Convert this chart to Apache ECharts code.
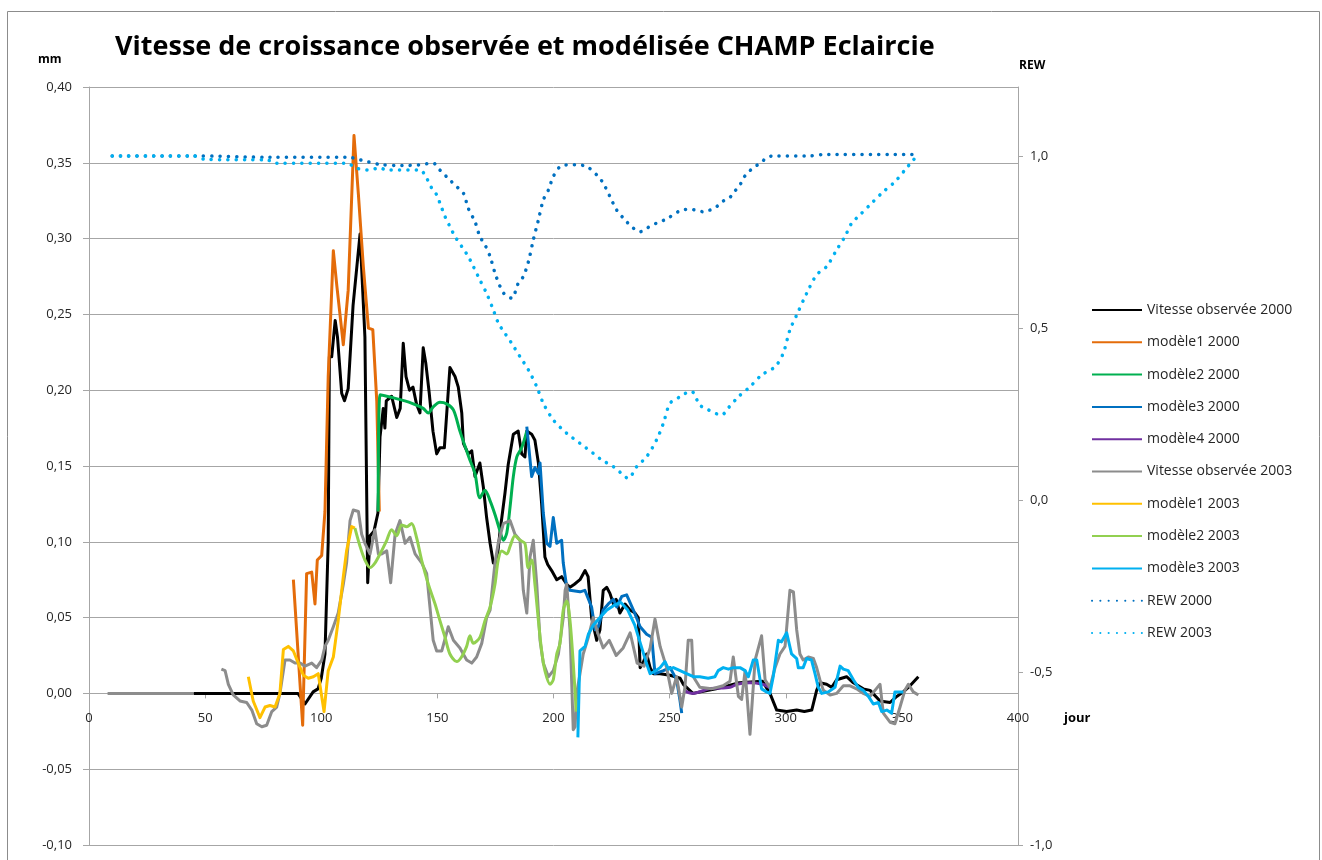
<!DOCTYPE html>
<html>
<head>
<meta charset="utf-8">
<script src="https://cdn.jsdelivr.net/npm/echarts@6/dist/echarts.min.js"></script>
<style>
html,body{margin:0;padding:0;background:#fff;}
#chart{width:1322px;height:860px;}
</style>
</head>
<body>
<div id="chart"></div>
<script>
// ---- DATA (day, value) ----
const obs2000 = [[45,0],[90,0],[93,-0.007],[96.5,0.001],[98.6,0.003],[100,0.01],[101.6,0.026],[103,0.1],[103.5,0.222],[104.5,0.222],[106,0.246],[107,0.235],[108.8,0.198],[110,0.193],[111.6,0.201],[113.7,0.256],[116.7,0.303],[118.8,0.235],[120,0.073],[121,0.104],[122.7,0.107],[124.4,0.119],[125.3,0.169],[126.7,0.188],[127.4,0.175],[128,0.193],[130.3,0.196],[132.5,0.182],[134,0.188],[135.3,0.231],[136.5,0.209],[138,0.2],[139.5,0.202],[141,0.191],[142.5,0.185],[143.9,0.228],[145,0.218],[146.5,0.198],[148.1,0.173],[149.7,0.158],[151.1,0.162],[153,0.162],[155.4,0.215],[157.6,0.209],[159,0.202],[160.5,0.185],[161.2,0.165],[163.3,0.158],[164.8,0.16],[166.2,0.143],[168.3,0.152],[169.8,0.136],[171.2,0.116],[172.7,0.099],[174.1,0.086],[175.5,0.086],[177,0.107],[179.1,0.132],[180.5,0.151],[182.7,0.171],[184.8,0.173],[186.3,0.158],[187.7,0.156],[188.5,0.173],[190.6,0.171],[192,0.167],[193.5,0.152],[194.9,0.125],[196.3,0.09],[197.5,0.085],[199.2,0.081],[201.4,0.075],[203.5,0.077],[205.7,0.072],[207.1,0.07],[209,0.072],[211.4,0.075],[213.6,0.081],[214.9,0.077],[216.4,0.05],[218.6,0.035],[220,0.042],[221.4,0.068],[222.9,0.07],[224.3,0.066],[225.8,0.059],[227,0.062],[228.6,0.053],[230.8,0.059],[232.9,0.055],[235.1,0.053],[236.5,0.05],[237.3,0.017],[238.5,0.02],[240.1,0.026],[241.6,0.017],[243,0.013],[245.9,0.013],[250.2,0.012],[254.5,0.01],[255.9,0.006],[260,0.0],[270,0.003],[280,0.007],[290,0.008],[293.2,0.0],[296.1,-0.011],[300.4,-0.012],[304.7,-0.011],[308,-0.012],[311.2,-0.011],[313.3,0.002],[314.7,0.007],[317.6,0.006],[319.8,0.004],[321.9,0.009],[326.2,0.011],[329.1,0.007],[333.4,0.003],[336.3,0.002],[340.6,-0.005],[344.9,-0.006],[347.8,-0.002],[350.6,0.001],[353.5,0.005],[357.1,0.011]];

const mod1_2000 = [[88,0.075],[92,-0.021],[93.7,0.079],[95.9,0.08],[97.3,0.059],[98.3,0.088],[100.2,0.091],[101.6,0.12],[103,0.209],[105.2,0.292],[106.7,0.269],[109.5,0.23],[111.6,0.266],[114.1,0.368],[116,0.329],[118.1,0.282],[120.3,0.241],[122.2,0.24],[123.9,0.193],[125,0.12]];

const mod2_2000 = [[124.5,0.12],[125.3,0.197],[131,0.195],[136,0.193],[139.6,0.191],[143.9,0.188],[146.1,0.185],[148.2,0.189],[151.1,0.192],[154,0.191],[156.9,0.187],[159.7,0.173],[162.6,0.16],[164,0.154],[166.2,0.145],[168.3,0.129],[170.5,0.134],[172.7,0.127],[174.8,0.118],[177,0.107],[178.4,0.101],[179.9,0.106],[181.3,0.123],[182.7,0.143],[184.2,0.156],[186.3,0.162],[188.5,0.173]];

const mod3_2000 = [[188.5,0.176],[190.6,0.143],[192,0.149],[193.5,0.145],[194.2,0.152],[195.6,0.119],[197.1,0.099],[198.5,0.097],[199.9,0.116],[201.4,0.099],[203.5,0.101],[204.2,0.086],[205.7,0.070],[207.1,0.068],[211.4,0.067],[213.5,0.068],[216.4,0.057],[217.9,0.042],[219.3,0.044],[221.4,0.055],[223.6,0.059],[225.8,0.062],[227.2,0.057],[229.4,0.064],[231.5,0.065],[234.4,0.055],[237.3,0.044],[240.1,0.039],[242.3,0.037],[243.7,0.013],[247.3,0.015],[250.2,0.017],[253,0.009],[254.5,-0.005],[255.2,-0.013]];

const mod4_2000 = [[256,0.002],[260,0.0],[267,0.003],[276,0.004],[279,0.006],[284.6,0.007],[290,0.006],[293,0.004]];

const obs2003 = [[8,0],[45,0],[51,'-'],[57,0.016],[58.6,0.015],[60,0.006],[62.1,-0.001],[65,-0.005],[67.9,-0.006],[70.1,-0.011],[72.2,-0.02],[74.4,-0.022],[76.5,-0.021],[78.7,-0.012],[80.8,-0.009],[82.2,0],[84.4,0.022],[86.5,0.022],[88.7,0.02],[90.9,0.02],[93,0.018],[95.9,0.02],[98,0.017],[100.2,0.022],[101.6,0.031],[103,0.035],[105.2,0.044],[107.3,0.053],[109.5,0.072],[110.9,0.086],[112.4,0.114],[113.8,0.121],[116,0.12],[117.4,0.105],[118.8,0.099],[121,0.092],[123.1,0.108],[124.6,0.092],[126,0.092],[128.2,0.094],[129.9,0.073],[131.8,0.105],[133.9,0.114],[136.1,0.099],[138.2,0.103],[140.4,0.092],[143.3,0.086],[145.4,0.079],[148.2,0.035],[149.7,0.028],[151.9,0.028],[154.7,0.044],[156.9,0.035],[159.7,0.03],[162.6,0.022],[164.8,0.02],[166.9,0.024],[169.1,0.033],[171.2,0.05],[172.7,0.055],[174.8,0.086],[176.2,0.099],[178.4,0.112],[181.3,0.114],[183.4,0.105],[185.6,0.101],[187,0.068],[188.5,0.053],[189.9,0.09],[191.3,0.101],[192.8,0.072],[194.2,0.035],[195.6,0.02],[197.8,0.011],[199.9,0.015],[202.1,0.026],[204.2,0.05],[205,0.068],[205.7,0.072],[207.1,0.042],[208.5,-0.024],[209.3,-0.022],[210,0],[211.4,0.013],[212.8,0.026],[215,0.037],[217.1,0.05],[219,0.04],[221.4,0.03],[224,0.035],[227,0.025],[230,0.03],[233,0.04],[236,0.02],[239,0.018],[241.6,0.03],[243.7,0.049],[245.9,0.031],[248.7,0.017],[250.9,0],[253,0.011],[255.2,-0.009],[256.6,0.004],[258,0.035],[259.5,0.035],[260.2,0.011],[263,0.004],[268,0.003],[273,0.005],[276,0.008],[277.4,0.024],[279.6,-0.002],[281,-0.004],[282.5,0.015],[284.6,-0.027],[286.8,0.022],[289.6,0.038],[291.1,0.009],[293.2,0.004],[295.4,0.017],[297.5,0.026],[299.7,0.031],[301.8,0.068],[303.3,0.067],[304.7,0.042],[306.1,0.026],[307.5,0.022],[309.7,0.024],[311.9,0.023],[313.3,0.017],[314.7,0.009],[316.2,0.002],[319.1,-0.001],[321.9,0],[324.8,0.005],[327.7,0.005],[330.5,0.003],[333.4,0],[336.3,-0.002],[338.4,0.002],[340.6,0.006],[342,-0.013],[344.9,-0.019],[347,-0.02],[349.2,-0.009],[351.3,0.002],[352.8,0.006],[354.9,0.001],[357.1,-0.001]];

const mod1_2003 = [[68.6,0.011],[70.7,-0.005],[73.6,-0.016],[75.8,-0.009],[77.9,-0.008],[80.1,-0.009],[82.2,0],[83.7,0.029],[85.8,0.031],[88,0.028],[90.1,0.02],[92.3,0.012],[94.4,0.01],[96.6,0.011],[98.7,0.013],[100.5,-0.005],[101.2,-0.012],[102,0.0],[103,0.015],[105.2,0.024],[107.3,0.048],[109.5,0.077],[110.9,0.094],[113.1,0.11],[114.5,0.109]];

const mod2_2003 = [[114.5,0.109],[116.7,0.097],[118.8,0.088],[121,0.083],[123.1,0.086],[125.3,0.092],[128.2,0.101],[130.3,0.108],[132.5,0.104],[134.6,0.111],[136.8,0.11],[138.9,0.112],[141,0.103],[143.2,0.088],[146.1,0.072],[149,0.059],[151.1,0.048],[153.3,0.037],[155.4,0.026],[158.3,0.021],[160.4,0.024],[162.6,0.031],[164,0.038],[165.5,0.033],[168.3,0.037],[170.5,0.048],[172.7,0.057],[174.8,0.072],[176.2,0.088],[177.7,0.094],[179.9,0.092],[181.3,0.097],[183.4,0.104],[185.6,0.101],[187.7,0.099],[189.1,0.083],[190.6,0.088],[192,0.072],[193.5,0.048],[194.9,0.028],[196.3,0.015],[198.5,0.006],[199.9,0.009],[201.4,0.026],[202.8,0.033],[204.2,0.055],[205.7,0.061],[207.1,0.048],[208.5,0.02],[209.8,-0.012]];

const mod3_2003 = [[210.5,-0.029],[211.4,0.028],[213.6,0.031],[215,0.039],[217.1,0.045],[220,0.05],[223,0.055],[226,0.058],[229,0.06],[232,0.055],[235,0.045],[238,0.03],[240,0.02],[241.6,0.013],[243,0.014],[245.9,0.017],[248,0.021],[249.5,0.016],[251.6,0.017],[254.5,0.015],[257.3,0.013],[260.2,0.011],[263,0.011],[266.6,0.01],[269.5,0.011],[270.9,0.015],[273.1,0.017],[275.3,0.016],[277.4,0.017],[280.3,0.017],[282.5,0.015],[283.9,0.011],[286,0.022],[287.5,0.022],[289.6,0.003],[291.7,0.001],[293.2,0],[294.6,0.011],[296.8,0.035],[298.2,0.034],[300.4,0.040],[302.5,0.026],[304.7,0.023],[305.4,0.017],[307.5,0.017],[309,0.023],[311.1,0.022],[312.6,0.013],[314,0.004],[315.5,0],[318.3,0.001],[321.2,0.004],[323.4,0.018],[324.8,0.016],[326.9,0.015],[329.1,0.009],[331.2,0.004],[333.4,0.002],[335.6,-0.002],[337.7,-0.007],[339.9,-0.006],[341.3,-0.012],[343.5,-0.011],[345.6,-0.013],[347,0.001],[349.2,0.001],[350.6,0.001]];

const rew2000 = [[10,1.0],[45,1.0],[78,0.996],[112,0.996],[116,0.99],[120,0.983],[125.3,0.975],[135,0.972],[142,0.974],[148.2,0.979],[151.1,0.959],[155.4,0.930],[158.3,0.911],[161.2,0.892],[163.3,0.848],[166.2,0.809],[168.3,0.766],[170.5,0.742],[172.7,0.708],[174.8,0.66],[177,0.621],[179.1,0.597],[182,0.587],[184.8,0.630],[187,0.650],[189.2,0.693],[191.3,0.756],[193.5,0.814],[195.6,0.872],[197.8,0.901],[199.9,0.940],[202.8,0.969],[205.7,0.974],[210,0.974],[214.3,0.969],[218.6,0.945],[221.4,0.921],[224.3,0.882],[227.2,0.843],[230.8,0.814],[234.4,0.790],[237.3,0.780],[240.1,0.790],[244.4,0.805],[248.7,0.817],[254.5,0.841],[258,0.845],[261,0.843],[264.5,0.838],[267.4,0.843],[270.3,0.853],[273.1,0.869],[276,0.880],[278.1,0.898],[280.3,0.916],[281.7,0.935],[283.9,0.953],[286.8,0.969],[289.6,0.982],[291.8,0.995],[294.6,1.0],[310,1.0],[316.2,1.004],[357.1,1.004]];

const rew2003 = [[10,1.0],[45,1.0],[50,0.99],[77,0.988],[80,0.979],[111,0.979],[115,0.965],[120,0.959],[125.3,0.965],[128.2,0.959],[142.5,0.959],[145.4,0.935],[147.6,0.906],[149.7,0.887],[151.1,0.863],[153.3,0.824],[155.4,0.795],[157.6,0.766],[160.5,0.737],[163.3,0.708],[165.5,0.679],[168.3,0.640],[171.2,0.601],[174.1,0.553],[176.3,0.514],[179.1,0.485],[182,0.456],[185.6,0.417],[189.2,0.379],[192.8,0.330],[195.6,0.282],[199.9,0.234],[205.7,0.195],[211.4,0.166],[217.1,0.137],[220.7,0.118],[225.8,0.098],[229,0.08],[232.2,0.064],[235.8,0.098],[240.1,0.127],[244.4,0.176],[247.3,0.224],[250.2,0.282],[254.5,0.301],[257.4,0.313],[259.5,0.316],[263,0.277],[266.6,0.263],[272.4,0.248],[275.2,0.268],[279.6,0.301],[284.6,0.330],[289.6,0.364],[295.4,0.388],[298.9,0.427],[301.8,0.495],[304.7,0.538],[309,0.601],[313.3,0.655],[317.6,0.679],[321.9,0.727],[325.5,0.766],[328.4,0.805],[332,0.829],[337,0.863],[342,0.896],[347,0.925],[351.3,0.959],[354.9,0.988],[357.1,1.003]];

const seriesNames = ['Vitesse observée 2000','modèle1 2000','modèle2 2000','modèle3 2000','modèle4 2000','Vitesse observée 2003','modèle1 2003','modèle2 2003','modèle3 2003','REW 2000','REW 2003'];
const titleText = 'Vitesse de croissance observée et modélisée CHAMP Eclaircie';

// ---- CHART ----
const FONT = "'Open Sans', 'Liberation Sans', sans-serif";
const chart = echarts.init(document.getElementById('chart'), null, {renderer: 'canvas'});
function fmt(v, d){ if (Math.abs(v) < 1e-9) v = 0; return v.toFixed(d).replace('.', ','); }
function mk(i, data, color, opts){
  opts = opts || {};
  return {
    name: seriesNames[i], type: 'line', data: data,
    yAxisIndex: opts.right ? 1 : 0,
    symbol: 'none', smooth: opts.smooth || false,
    connectNulls: false,
    lineStyle: opts.dotted
      ? {color: color, width: 3.5, type: [0.1, 8.2], cap: 'round'}
      : {color: color, width: 3, join: 'round'},
    itemStyle: {color: color},
    emphasis: {disabled: true}
  };
}
const GRID_TOP = 87, GRID_BOTTOM_Y = 845;
const Y_MIN = -0.1, Y_MAX = 0.4;
const zeroOffset = -(GRID_BOTTOM_Y - (GRID_TOP + (GRID_BOTTOM_Y - GRID_TOP) * Y_MAX / (Y_MAX - Y_MIN)));
const option = {
  animation: false,
  backgroundColor: '#ffffff',
  grid: {left: 89, right: 304, top: GRID_TOP, bottom: 860 - GRID_BOTTOM_Y},
  legend: {
    orient: 'vertical', left: 1086, top: 298,
    itemWidth: 50, itemHeight: 14, itemGap: 18.3,
    itemStyle: {opacity: 0},
    textStyle: {fontFamily: FONT, fontSize: 14, color: '#262626', lineHeight: 14},
    data: seriesNames
  },
  xAxis: {
    type: 'value', min: 0, max: 400, interval: 50,
    position: 'bottom', offset: zeroOffset,
    axisLine: {show: true, onZero: false, lineStyle: {color: '#a6a6a6'}},
    axisTick: {show: true, length: 5, lineStyle: {color: '#a6a6a6'}},
    axisLabel: {fontFamily: FONT, fontSize: 13, color: '#262626', margin: 18},
    splitLine: {show: false}
  },
  yAxis: [{
    type: 'value', position: 'left', min: Y_MIN, max: Y_MAX, interval: 0.05,
    axisLine: {show: true, lineStyle: {color: '#a6a6a6'}},
    axisTick: {show: true, length: 6, lineStyle: {color: '#a6a6a6'}},
    axisLabel: {fontFamily: FONT, fontSize: 13, color: '#262626', margin: 17, formatter: v => fmt(v, 2)},
    splitLine: {show: true, lineStyle: {color: '#a6a6a6', width: 1}}
  }, {
    type: 'value', position: 'right', min: -1, max: 1.2, interval: 0.5,
    axisLine: {show: true, lineStyle: {color: '#a6a6a6'}},
    axisTick: {show: true, length: 5, lineStyle: {color: '#a6a6a6'}},
    axisLabel: {fontFamily: FONT, fontSize: 13, color: '#262626', margin: 12, showMaxLabel: false, formatter: v => fmt(v, 1)},
    splitLine: {show: false}
  }],
  series: [
    mk(0, obs2000, '#000000'),
    mk(1, mod1_2000, '#E46C0A'),
    mk(2, mod2_2000, '#00B050', {smooth: 0.3}),
    mk(3, mod3_2000, '#0070C0'),
    mk(4, mod4_2000, '#7030A0', {smooth: 0.3}),
    mk(5, obs2003, '#8C8C8C'),
    mk(6, mod1_2003, '#FFC000'),
    mk(7, mod2_2003, '#92D050', {smooth: 0.3}),
    mk(8, mod3_2003, '#00B0F0'),
    mk(9, rew2000, '#0070C0', {right: true, dotted: true, smooth: 0.3}),
    mk(10, rew2003, '#00B0F0', {right: true, dotted: true, smooth: 0.3})
  ],
  graphic: [
    {type: 'rect', silent: true, z: -10, shape: {x: 7.5, y: 11.5, width: 1312, height: 900},
      style: {fill: 'none', stroke: '#8c8c8c', lineWidth: 1}},
    {type: 'text', silent: true, style: {text: titleText, x: 115, y: 47, fill: '#000', font: 'bold 27px ' + FONT, textVerticalAlign: 'middle'}},
    {type: 'text', silent: true, style: {text: 'mm', x: 38, y: 60, fill: '#000', font: 'bold 12px ' + FONT, textVerticalAlign: 'middle'}},
    {type: 'text', silent: true, style: {text: 'REW', x: 1019, y: 66, fill: '#000', font: 'bold 12px ' + FONT, textVerticalAlign: 'middle'}},
    {type: 'text', silent: true, style: {text: 'jour', x: 1064, y: 718, fill: '#000', font: 'bold 13px ' + FONT, textVerticalAlign: 'middle'}}
  ]
};
chart.setOption(option);
</script>
</body>
</html>
